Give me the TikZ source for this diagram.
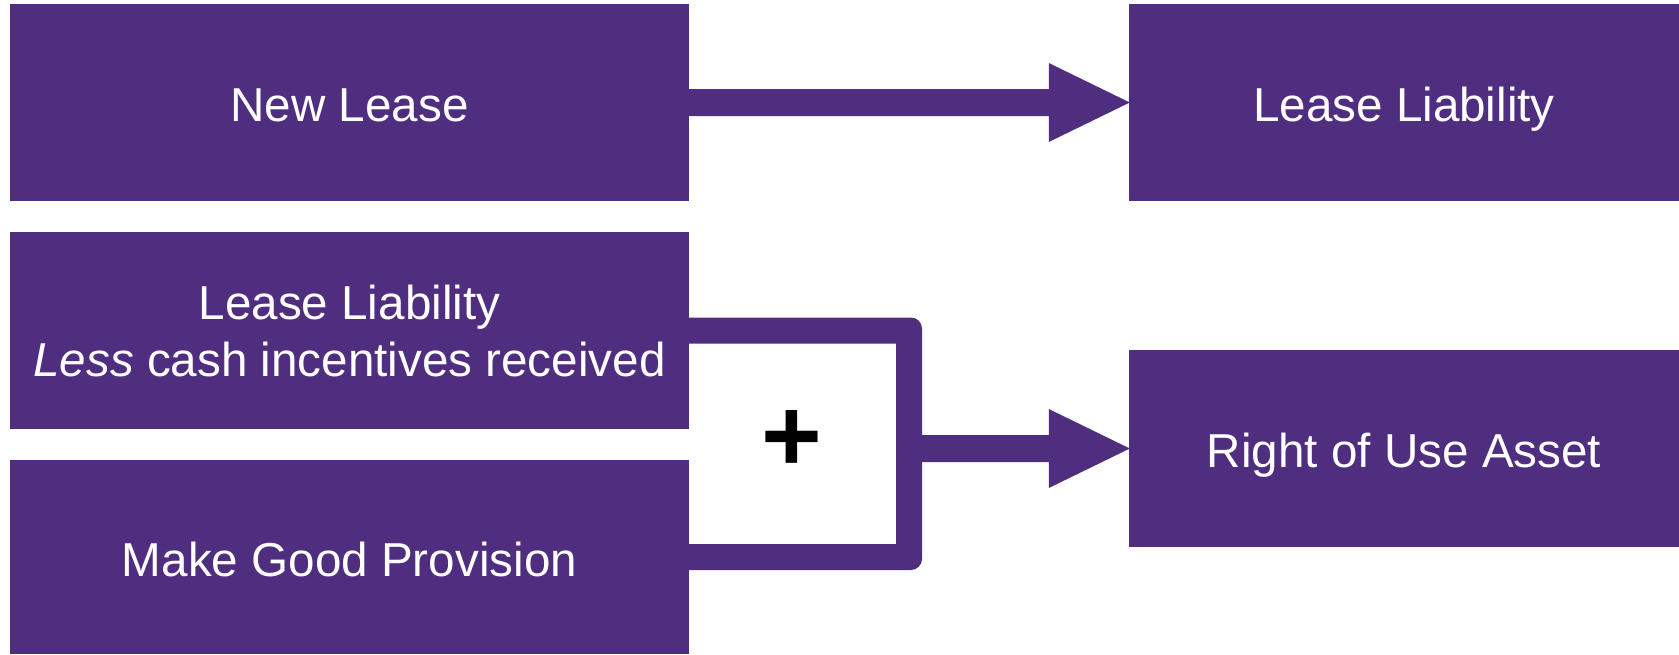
\documentclass[tikz,border=0pt]{standalone}
\usepackage{fontspec}
\setmainfont{Liberation Sans}
\usetikzlibrary{calc}
\definecolor{pur}{RGB}{79,45,127}
\tikzset{
  box/.style={rectangle, fill=pur, text=white, inner sep=0pt, align=center,
    font=\fontsize{47.6}{57}\selectfont},
  oneline/.style={box, text height=38pt, text depth=0pt},
}
\begin{document}
\begin{tikzpicture}[x=1pt,y=-1pt]
\useasboundingbox (0,0) rectangle (1679,654);
\node[oneline, minimum width=679pt, minimum height=197pt] (nl) at (349.5,102.5) {New Lease};
\node[oneline, minimum width=550pt, minimum height=197pt] (ll) at (1404,102.5) {Lease Liability};
\node[box, minimum width=679pt, minimum height=197pt] (lless) at (349.5,330.5) {Lease Liability\\\textit{Less} cash incentives received};
\node[oneline, minimum width=679pt, minimum height=194pt] (mgp) at (349.5,557) {Make Good Provision};
\node[oneline, minimum width=550pt, minimum height=197pt] (rou) at (1404,448.5) {Right of Use Asset};
\coordinate (bx) at (922,448.5);
% arrow 1
\fill[pur] ($(nl.east)+(-1,-13.5)$) -- ($(ll.west)+(-80,-13.5)$) -- ($(ll.west)+(-80,-39.5)$) -- ($(ll.west)+(1,0)$)
  -- ($(ll.west)+(-80,39.5)$) -- ($(ll.west)+(-80,13.5)$) -- ($(nl.east)+(-1,13.5)$) -- cycle;
% bracket
\fill[pur] ($(lless.east)+(-1,-13)$) -- ($(bx |- lless.east)+(-11,-13)$) arc[start angle=-90,end angle=0,radius=11]
  -- ($(bx |- mgp.east)+(0,2)$) arc[start angle=0,end angle=90,radius=11]
  -- ($(mgp.east)+(-1,13)$) -- ($(mgp.east)+(-1,-13)$) -- ($(bx |- mgp.east)+(-26,-13)$)
  -- ($(bx |- lless.east)+(-26,13)$) -- ($(lless.east)+(-1,13)$) -- cycle;
% arrow 2
\fill[pur] ($(bx)+(-3,-13.5)$) -- ($(rou.west)+(-80,-13.5)$) -- ($(rou.west)+(-80,-39.5)$) -- ($(rou.west)+(1,0)$)
  -- ($(rou.west)+(-80,39.5)$) -- ($(rou.west)+(-80,13.5)$) -- ($(bx)+(-3,13.5)$) -- cycle;
\node[font=\fontsize{104}{104}\bfseries\selectfont, inner sep=0pt] (plus) at (792,441) {+};
\end{tikzpicture}
\end{document}
